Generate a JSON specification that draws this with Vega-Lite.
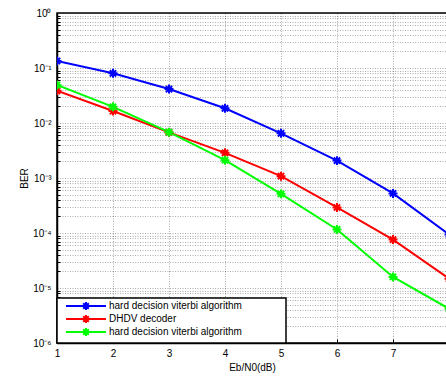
{
  "$schema": "https://vega.github.io/schema/vega-lite/v6.json",
  "width": 390,
  "height": 330,
  "autosize": {"type": "none"},
  "padding": {"left": 57, "top": 13, "right": 0, "bottom": 33},
  "background": "white",
  "config": {
    "view": {"stroke": "#000", "strokeWidth": 1.5},
    "font": "Liberation Sans",
    "axis": {
      "labelFont": "Liberation Sans",
      "titleFont": "Liberation Sans",
      "labelColor": "#000",
      "titleColor": "#000",
      "labelFontSize": 10,
      "titleFontSize": 10,
      "titleFontWeight": "normal",
      "domainColor": "#000",
      "domainWidth": 1.5,
      "tickColor": "#000",
      "gridColor": "#000",
      "gridOpacity": 0.32,
      "gridDash": [1, 1.5],
      "gridWidth": 1
    },
    "legend": {
      "orient": "bottom-left",
      "offset": 0,
      "title": null,
      "fillColor": "white",
      "strokeColor": "#000",
      "strokeWidth": 1.5,
      "padding": 3,
      "rowPadding": -3,
      "labelFont": "Liberation Sans",
      "labelFontSize": 10,
      "labelColor": "#000",
      "labelLimit": 300,
      "symbolType": "M-5,0L5,0M-1,0L1,0M0,-1L0,1M-0.7,-0.7L0.7,0.7M-0.7,0.7L0.7,-0.7",
      "symbolSize": 64,
      "symbolStrokeWidth": 2,
      "symbolFillColor": "transparent",
      "symbolOffset": 21,
      "labelOffset": 18
    }
  },
  "data": {
    "values": [
      {"snr": 1, "ber": 0.134, "series": "hard decision viterbi algorithm"},
      {"snr": 2, "ber": 0.080, "series": "hard decision viterbi algorithm"},
      {"snr": 3, "ber": 0.0414, "series": "hard decision viterbi algorithm"},
      {"snr": 4, "ber": 0.0185, "series": "hard decision viterbi algorithm"},
      {"snr": 5, "ber": 0.0065, "series": "hard decision viterbi algorithm"},
      {"snr": 6, "ber": 0.00207, "series": "hard decision viterbi algorithm"},
      {"snr": 7, "ber": 0.000524, "series": "hard decision viterbi algorithm"},
      {"snr": 8, "ber": 0.000094, "series": "hard decision viterbi algorithm"},
      {"snr": 1, "ber": 0.0385, "series": "DHDV decoder"},
      {"snr": 2, "ber": 0.0165, "series": "DHDV decoder"},
      {"snr": 3, "ber": 0.00675, "series": "DHDV decoder"},
      {"snr": 4, "ber": 0.00287, "series": "DHDV decoder"},
      {"snr": 5, "ber": 0.00108, "series": "DHDV decoder"},
      {"snr": 6, "ber": 0.000291, "series": "DHDV decoder"},
      {"snr": 7, "ber": 0.000076, "series": "DHDV decoder"},
      {"snr": 8, "ber": 0.0000148, "series": "DHDV decoder"},
      {"snr": 1, "ber": 0.049, "series": "hard decision viterbi algorithm (2)"},
      {"snr": 2, "ber": 0.0197, "series": "hard decision viterbi algorithm (2)"},
      {"snr": 3, "ber": 0.0068, "series": "hard decision viterbi algorithm (2)"},
      {"snr": 4, "ber": 0.00211, "series": "hard decision viterbi algorithm (2)"},
      {"snr": 5, "ber": 0.000515, "series": "hard decision viterbi algorithm (2)"},
      {"snr": 6, "ber": 0.000116, "series": "hard decision viterbi algorithm (2)"},
      {"snr": 7, "ber": 0.0000159, "series": "hard decision viterbi algorithm (2)"},
      {"snr": 8, "ber": 0.0000042, "series": "hard decision viterbi algorithm (2)"}
    ]
  },
  "layer": [
    {
      "mark": {"type": "line", "clip": true, "strokeWidth": 2},
      "encoding": {
        "x": {
          "field": "snr", "type": "quantitative",
          "scale": {"domain": [1, 7.964], "nice": false, "zero": false},
          "axis": {
            "orient": "bottom", "title": "Eb/N0(dB)", "values": [1, 2, 3, 4, 5, 6, 7],
            "grid": true, "ticks": false, "labelPadding": 5, "titlePadding": 4,
            "labelFlush": false
          }
        },
        "y": {
          "field": "ber", "type": "quantitative",
          "scale": {"type": "log", "domain": [0.000001, 1], "nice": false},
          "axis": {
            "orient": "left", "title": "BER",
            "values": [0.000001, 0.00001, 0.0001, 0.001, 0.01, 0.1, 1],
            "labelExpr": "'10' + (datum.value >= 0.999 ? '⁰' : '⁻' + ['', '¹', '²', '³', '⁴', '⁵', '⁶'][round(-log(datum.value) / LN10)])",
            "grid": true, "ticks": false, "labelPadding": 6, "titlePadding": 3,
            "labelFlush": false
          }
        },
        "color": {
          "field": "series", "type": "nominal",
          "scale": {
            "domain": ["hard decision viterbi algorithm", "DHDV decoder", "hard decision viterbi algorithm (2)"],
            "range": ["#0000FF", "#FF0000", "#00FF00"]
          },
          "legend": {
            "labelExpr": "replace(datum.label, ' (2)', '') + (datum.label == 'DHDV decoder' ? '' : '\u00a0\u00a0\u00a0\u00a0\u00a0\u00a0\u00a0\u00a0\u00a0\u00a0\u00a0\u00a0\u2800')"
          }
        }
      }
    },
    {
      "mark": {
        "type": "point", "clip": true, "filled": false, "strokeWidth": 2, "size": 80, "opacity": 1,
        "shape": "M-1,0L1,0M0,-1L0,1M-0.7,-0.7L0.7,0.7M-0.7,0.7L0.7,-0.7"
      },
      "encoding": {
        "x": {
          "field": "snr", "type": "quantitative",
          "axis": {
            "orient": "bottom", "title": null, "values": [1, 2, 3, 4, 5, 6, 7],
            "labels": false, "grid": false, "domain": false, "ticks": true, "tickSize": -4
          }
        },
        "y": {
          "field": "ber", "type": "quantitative",
          "axis": {
            "orient": "left", "title": null, "labels": false, "domain": false,
            "grid": true, "ticks": true, "tickSize": -3,
            "values": [
              0.000002, 0.000003, 0.000004, 0.000005, 0.000006, 0.000007, 0.000008, 0.000009,
              0.00002, 0.00003, 0.00004, 0.00005, 0.00006, 0.00007, 0.00008, 0.00009,
              0.0002, 0.0003, 0.0004, 0.0005, 0.0006, 0.0007, 0.0008, 0.0009,
              0.002, 0.003, 0.004, 0.005, 0.006, 0.007, 0.008, 0.009,
              0.02, 0.03, 0.04, 0.05, 0.06, 0.07, 0.08, 0.09,
              0.2, 0.3, 0.4, 0.5, 0.6, 0.7, 0.8, 0.9
            ]
          }
        },
        "color": {"field": "series", "type": "nominal"}
      }
    }
  ],
  "resolve": {"axis": {"x": "independent", "y": "independent"}}
}
